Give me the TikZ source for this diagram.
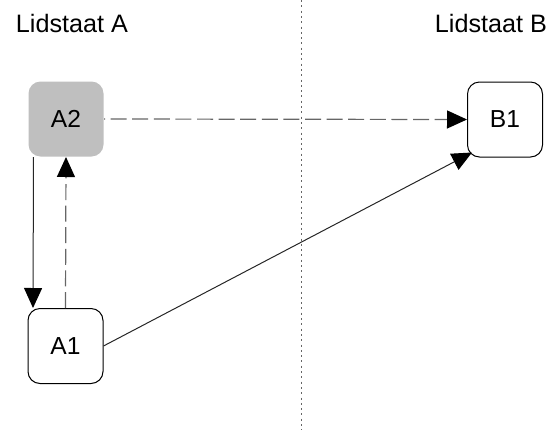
\documentclass[tikz,border=0pt]{standalone}
\usepackage{fontspec}
\setmainfont{Liberation Sans}
\usetikzlibrary{arrows.meta,calc}
\begin{document}
\begin{tikzpicture}[x=1pt,y=1pt,
  statebox/.style={draw=black,line width=0.5pt,rounded corners=6pt,minimum width=37.5pt,minimum height=37.5pt,inner sep=0pt,font=\fontsize{12.3}{14}\selectfont},
  shaded/.style={statebox,draw=none,fill=black!25},
  title/.style={font=\fontsize{12.6}{14}\selectfont,anchor=base},
  solidarrow/.style={draw=black!85,line width=0.5pt,-{Triangle[length=10pt,width=9pt,color=black]}},
  dasharrow/.style={draw=black!60,line width=0.6pt,dash pattern=on 8pt off 2.8pt,-{Triangle[length=10pt,width=9pt,color=black]}},
  divider/.style={draw=black!60,line width=0.5pt,dash pattern=on 1pt off 1.65pt}]
\useasboundingbox (0,0) rectangle (278,215);
\node[title] (la) at (36,199) {Lidstaat A};
\node[title] (lb) at (245.5,199) {Lidstaat B};
\coordinate (dtop) at (150.5,215);
\coordinate (dbot) at (150.5,0);
\draw[divider] (dtop) -- (dbot);
\node[shaded] (A2) at (33,155.5) {A2};
\node[statebox] (A1) at (32.75,42) {A1};
\node[statebox] (B1) at (252.5,155.25) {B1};
\coordinate (b1c) at ($(B1.south west)+(2.5pt,2.5pt)$);
\draw[solidarrow] ($(A2.south west)+(2.75pt,0)$) -- ($(A1.north west)+(2.75pt,0)$);
\draw[dasharrow] (A1.north) -- (A2.south);
\draw[dasharrow,dash phase=7.5pt] (A2.east) -- (B1.west);
\draw[solidarrow] (A1.east) -- (b1c);
\end{tikzpicture}
\end{document}
